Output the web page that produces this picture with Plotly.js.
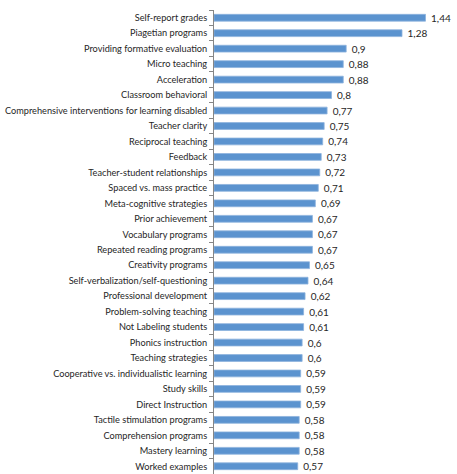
<!DOCTYPE html>
<html>
<head>
<meta charset="utf-8">
<script src="https://cdn.plot.ly/plotly-3.0.1.min.js"></script>
<style>
  html, body { margin: 0; padding: 0; background: #fff; overflow: hidden; }
  #chart { width: 457px; height: 474px; }
</style>
</head>
<body>
<div id="chart"></div>
<script>
// effect sizes, largest first (top of chart)
const categories = [
  'Self-report grades',
  'Piagetian programs',
  'Providing formative evaluation',
  'Micro teaching',
  'Acceleration',
  'Classroom behavioral',
  'Comprehensive interventions for learning disabled',
  'Teacher clarity',
  'Reciprocal teaching',
  'Feedback',
  'Teacher-student relationships',
  'Spaced vs. mass practice',
  'Meta-cognitive strategies',
  'Prior achievement',
  'Vocabulary programs',
  'Repeated reading programs',
  'Creativity programs',
  'Self-verbalization/self-questioning',
  'Professional development',
  'Problem-solving teaching',
  'Not Labeling students',
  'Phonics instruction',
  'Teaching strategies',
  'Cooperative vs. individualistic learning',
  'Study skills',
  'Direct Instruction',
  'Tactile stimulation programs',
  'Comprehension programs',
  'Mastery learning',
  'Worked examples'
];

const effects = [
  1.44, 1.28, 0.9, 0.88, 0.88, 0.8, 0.77, 0.75, 0.74, 0.73,
  0.72, 0.71, 0.69, 0.67, 0.67, 0.67, 0.65, 0.64, 0.62, 0.61,
  0.61, 0.6, 0.6, 0.59, 0.59, 0.59, 0.58, 0.58, 0.58, 0.57
];

// decimal comma, as in the original
const labels = effects.map(v => String(v).replace('.', ','));

const font = 'Lato, "Open Sans", sans-serif';

Plotly.newPlot('chart', [{
  type: 'bar',
  orientation: 'h',
  y: categories,
  x: effects,
  text: labels,
  texttemplate: '\u00a0%{text}',
  textposition: 'outside',
  constraintext: 'none',
  cliponaxis: false,
  textfont: { family: font, size: 10, color: '#262626' },
  marker: {
    color: '#5b93cf',
    line: { color: '#8db3dd', width: 0.8 }
  },
  hoverinfo: 'y+x'
}], {
  width: 457,
  height: 474,
  margin: { l: 214, r: 8, t: 10, b: 0 },
  paper_bgcolor: '#fff',
  plot_bgcolor: '#fff',
  showlegend: false,
  bargap: 0.56,
  font: { family: font, size: 9, color: '#262626' },
  xaxis: {
    range: [0, 1.6],
    visible: false,
    fixedrange: true
  },
  yaxis: {
    autorange: 'reversed',
    showline: true,
    linecolor: '#868686',
    linewidth: 1,
    ticks: 'outside',
    ticklen: 4,
    tickcolor: '#868686',
    tickson: 'boundaries',
    ticklabelstandoff: 4,
    showgrid: false,
    zeroline: false,
    fixedrange: true,
    tickfont: { family: font, size: 9.2, color: '#262626' }
  }
}, { displayModeBar: false, staticPlot: true });
</script>
</body>
</html>
